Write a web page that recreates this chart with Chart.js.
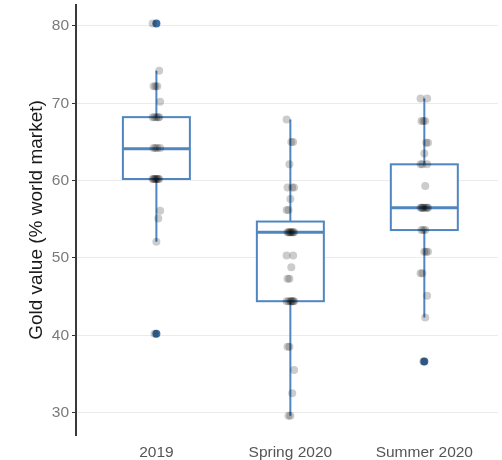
<!DOCTYPE html>
<html>
<head>
<meta charset="utf-8">
<script src="https://cdn.jsdelivr.net/npm/chart.js@4"></script>
<style>
html,body{margin:0;padding:0;background:#fff;}
#wrap{width:502px;height:460px;position:relative;}
</style>
</head>
<body>
<div id="wrap"><canvas id="c"></canvas></div>
<script>
const categories = ['2019', 'Spring 2020', 'Summer 2020'];
const yTicks = [30, 40, 50, 60, 70, 80];

const values2019 = [80.3, 74.2, 72.2, 72.2, 72.2, 70.2,
  68.2, 68.2, 68.2, 68.2, 68.2,
  64.2, 64.2, 64.2, 64.2,
  60.2, 60.2, 60.2, 60.2, 60.2, 60.2, 60.2, 60.2,
  56.1, 55.1, 52.1, 40.2];
const valuesSpring = [67.9, 65.0, 65.0, 62.1, 59.1, 59.1, 59.1, 57.6, 56.2, 56.2,
  53.3, 53.3, 53.3, 53.3, 53.3, 53.3, 53.3, 53.3,
  50.3, 50.3, 48.8, 47.3, 47.3,
  44.4, 44.4, 44.4, 44.4, 44.4, 44.4, 44.4,
  38.5, 38.5, 35.5, 32.5, 29.6, 29.6];
const valuesSummer = [70.6, 70.6, 67.7, 67.7, 67.7, 64.9, 64.9, 63.5, 62.1, 62.1, 62.1, 59.3,
  56.5, 56.5, 56.5, 56.5, 56.5, 56.5, 56.5, 56.5,
  53.6, 53.6, 53.6, 50.8, 50.8, 50.8, 48.0, 48.0, 45.1, 42.3, 36.6];

const q1 = [60.2, 44.4, 53.6];
const median = [64.1, 53.3, 56.5];
const q3 = [68.2, 54.7, 62.1];
const whiskerLow = [52.1, 29.6, 42.3];
const whiskerHigh = [74.2, 67.9, 70.6];
const outliers = [[80.3, 40.2], [], [36.6]];

const groups = [values2019, valuesSpring, valuesSummer];
const BOX_HALF = 0.25;
const BLUE = '#4f86bf';

function jitter(i) { return (((i * 7) % 9) - 4) * 0.007; }

const pointDatasets = groups.map((vals, g) => ({
  label: categories[g],
  data: vals.map((v, i) => ({ x: g + 1 + jitter(i), y: v })),
  backgroundColor: 'rgba(0,0,0,0.2)',
  borderWidth: 0,
  pointRadius: 4,
  pointHoverRadius: 4,
  order: 1
}));

const outlierDataset = {
  label: 'outliers',
  data: outliers.flatMap((arr, g) => arr.map(v => ({ x: g + 1, y: v }))),
  backgroundColor: '#3a6c9e',
  borderWidth: 0,
  pointRadius: 4,
  pointHoverRadius: 4,
  order: 2
};

const boxPlugin = {
  id: 'boxes',
  beforeDatasetsDraw(chart) {
    const { ctx, scales: { x, y } } = chart;
    ctx.save();
    categories.forEach((c, g) => {
      const xl = x.getPixelForValue(g + 1 - BOX_HALF);
      const xr = x.getPixelForValue(g + 1 + BOX_HALF);
      const xc = x.getPixelForValue(g + 1);
      const yq1 = y.getPixelForValue(q1[g]);
      const yq3 = y.getPixelForValue(q3[g]);
      const ym = y.getPixelForValue(median[g]);
      const ylo = y.getPixelForValue(whiskerLow[g]);
      const yhi = y.getPixelForValue(whiskerHigh[g]);
      ctx.strokeStyle = BLUE;
      ctx.lineWidth = 2;
      ctx.beginPath();
      ctx.moveTo(xc, yq3); ctx.lineTo(xc, yhi);
      ctx.moveTo(xc, yq1); ctx.lineTo(xc, ylo);
      ctx.stroke();
      ctx.fillStyle = '#ffffff';
      ctx.fillRect(xl, yq3, xr - xl, yq1 - yq3);
      ctx.strokeRect(xl, yq3, xr - xl, yq1 - yq3);
      ctx.lineWidth = 3;
      ctx.beginPath();
      ctx.moveTo(xl, ym); ctx.lineTo(xr, ym);
      ctx.stroke();
    });
    ctx.restore();
  }
};

new Chart(document.getElementById('c'), {
  type: 'scatter',
  data: { datasets: [...pointDatasets, outlierDataset] },
  options: {
    responsive: true,
    maintainAspectRatio: false,
    animation: false,
    layout: { padding: { top: 5, left: 21, right: 0, bottom: 0 } },
    plugins: { legend: { display: false }, tooltip: { enabled: false } },
    scales: {
      x: {
        type: 'linear',
        min: 0.4,
        max: 3.55,
        afterBuildTicks(scale) { scale.ticks = categories.map((c, i) => ({ value: i + 1 })); },
        afterFit(scale) { scale.height = 25; scale.paddingLeft = 0; scale.paddingRight = 0; },
        grid: { display: false, drawTicks: false },
        border: { display: false },
        ticks: {
          callback: (v) => categories[v - 1] || '',
          color: '#555555',
          font: { family: 'Liberation Sans, Arial, sans-serif', size: 15.5 },
          padding: 8,
          maxRotation: 0,
          autoSkip: false
        }
      },
      y: {
        type: 'linear',
        min: 27.1,
        max: 82.7,
        afterBuildTicks(scale) { scale.ticks = yTicks.map(v => ({ value: v })); },
        afterFit(scale) { scale.width = 55; scale.paddingTop = 0; scale.paddingBottom = 0; },
        grid: { color: '#ebebeb', lineWidth: 1, tickColor: '#333333', tickLength: 4 },
        border: { display: true, color: '#3a3a3a', width: 2 },
        ticks: {
          color: '#7a7a7a',
          font: { family: 'Liberation Sans, Arial, sans-serif', size: 15.5 },
          padding: 3
        },
        title: {
          display: true,
          text: 'Gold value (% world market)',
          color: '#1a1a1a',
          font: { family: 'Liberation Sans, Arial, sans-serif', size: 19 },
          padding: { top: 4, bottom: 4 }
        }
      }
    }
  },
  plugins: [boxPlugin]
});
</script>
</body>
</html>
